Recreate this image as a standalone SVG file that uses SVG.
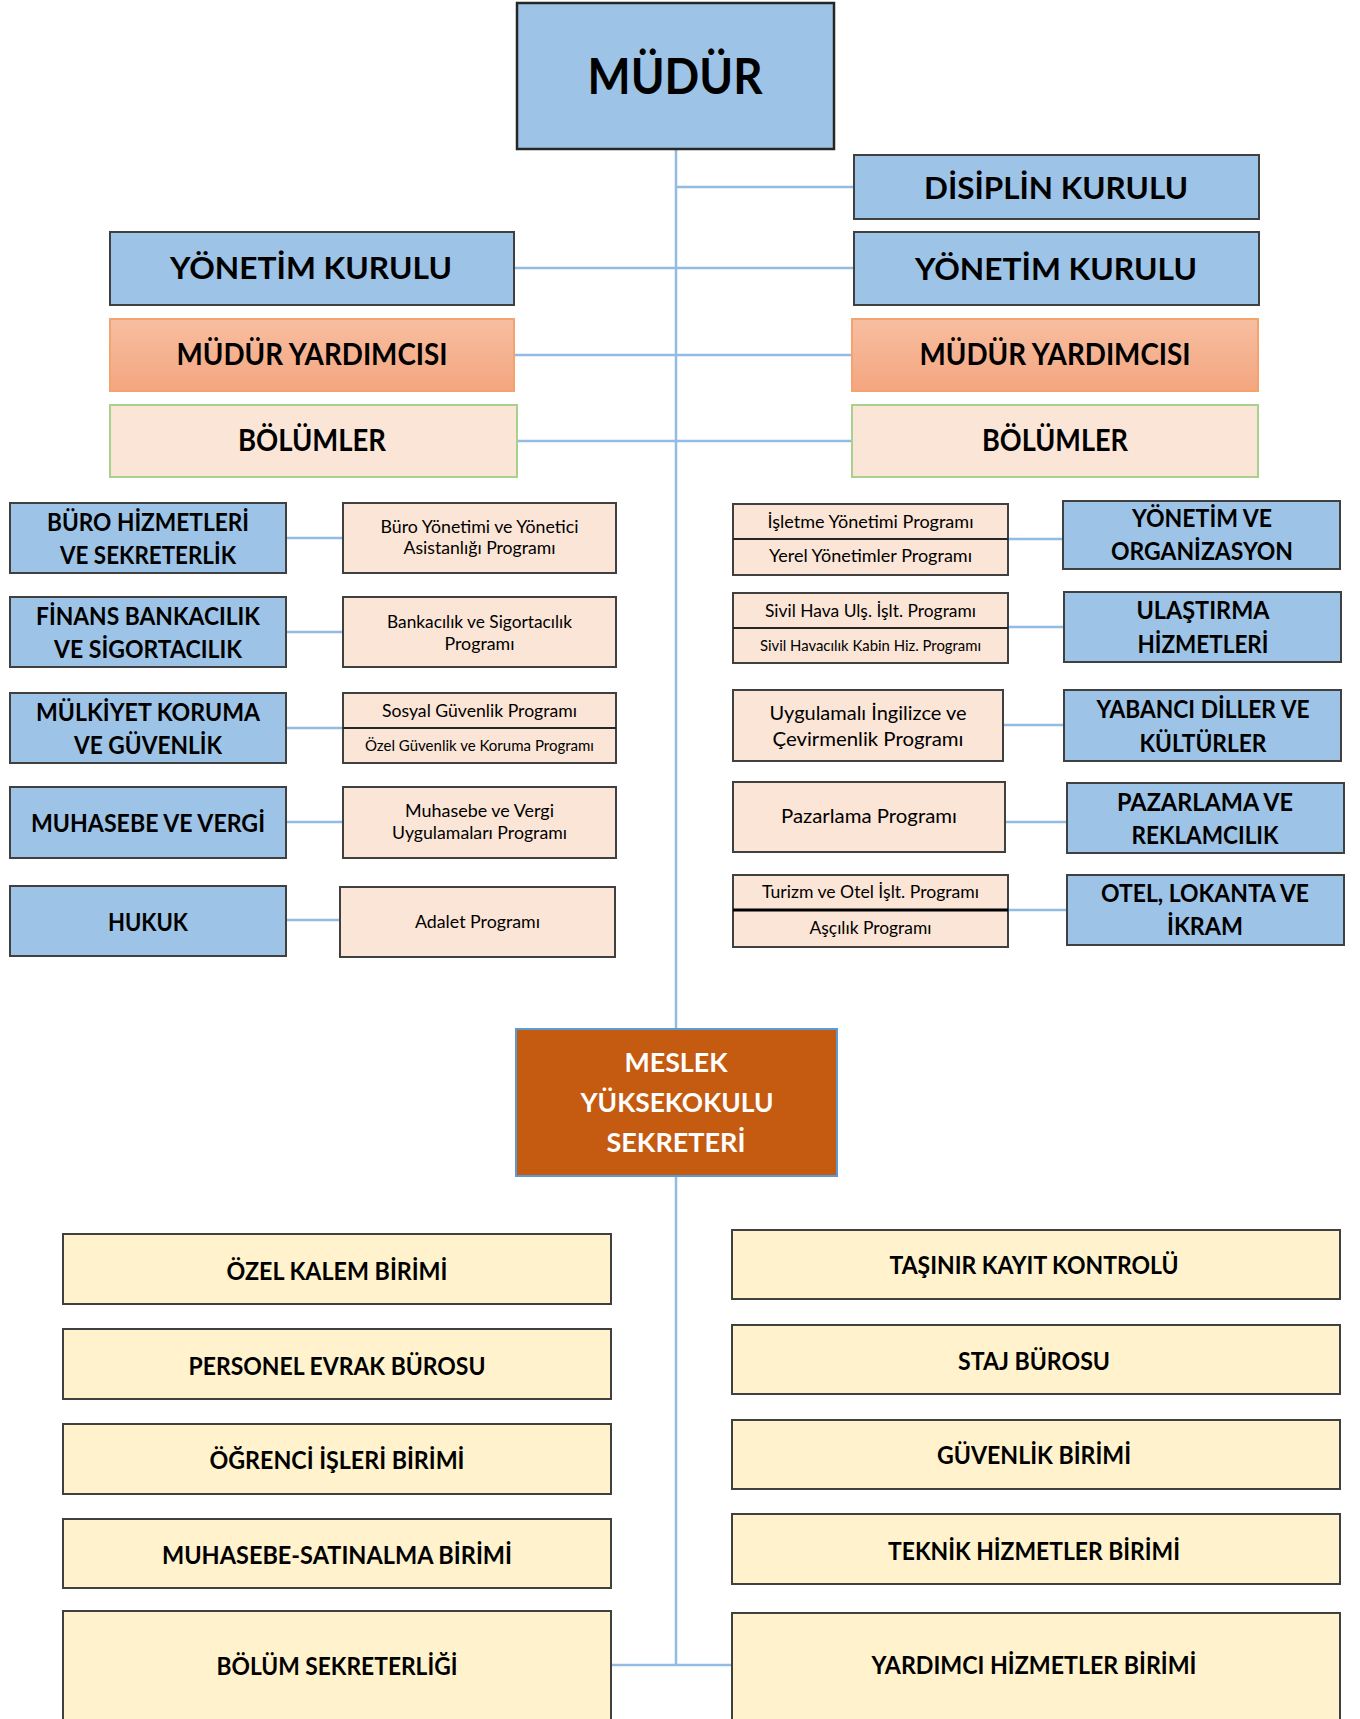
<svg xmlns="http://www.w3.org/2000/svg" width="1360" height="1719" viewBox="0 0 1360 1719">
<defs>
<linearGradient id="orangeGrad" x1="0" y1="0" x2="0" y2="1">
<stop offset="0" stop-color="#F7BEA1"/>
<stop offset="1" stop-color="#F4A67F"/>
</linearGradient>
</defs>
<style>
text{font-family:Lato,"Liberation Sans",Arial,sans-serif;fill:#000;text-anchor:middle}
.b{font-weight:700}
.r{font-weight:400}
.blue{fill:#9DC3E6;stroke:#404040;stroke-width:2}
.orange{fill:url(#orangeGrad);stroke:#F4A26F;stroke-width:2}
.bol{fill:#FBE5D6;stroke:#A9D18E;stroke-width:2}
.prog{fill:#FBE5D6;stroke:#404040;stroke-width:2}
.unit{fill:#FFF2CC;stroke:#404040;stroke-width:2}
.split{stroke:#262626;stroke-width:2}
.conn{stroke:#93BCE5;stroke-width:2.5;fill:none}
.t30{font-size:30px}
.t24{font-size:24px}
.w{fill:#fff}
</style>
<rect width="1360" height="1719" fill="#fff"/>

<g id="connectors">
<line class="conn" x1="676" y1="149" x2="676" y2="1029"/>
<line class="conn" x1="676" y1="1176" x2="676" y2="1665"/>
<line class="conn" x1="676" y1="187" x2="854" y2="187"/>
<line class="conn" x1="514" y1="268" x2="854" y2="268"/>
<line class="conn" x1="514" y1="355" x2="852" y2="355"/>
<line class="conn" x1="517" y1="441" x2="852" y2="441"/>
<line class="conn" x1="286" y1="538" x2="343" y2="538"/>
<line class="conn" x1="286" y1="632" x2="343" y2="632"/>
<line class="conn" x1="286" y1="728" x2="343" y2="728"/>
<line class="conn" x1="286" y1="822" x2="343" y2="822"/>
<line class="conn" x1="286" y1="920" x2="340" y2="920"/>
<line class="conn" x1="1008" y1="539" x2="1063" y2="539"/>
<line class="conn" x1="1008" y1="627" x2="1064" y2="627"/>
<line class="conn" x1="1003" y1="725" x2="1064" y2="725"/>
<line class="conn" x1="1005" y1="822" x2="1067" y2="822"/>
<line class="conn" x1="1008" y1="910" x2="1067" y2="910"/>
<line class="conn" x1="611" y1="1665" x2="732" y2="1665"/>
</g>

<g id="mudur">
<rect x="517" y="3" width="317" height="146" fill="#9DC3E6" stroke="#262626" stroke-width="2.5"/>
<text class="b" x="675" y="94" font-size="50" textLength="175" lengthAdjust="spacingAndGlyphs">MÜDÜR</text>
</g>

<g id="disiplin-kurulu">
<rect class="blue" x="854" y="155" width="405" height="64"/>
<text class="b t30" x="1056" y="199" textLength="264" lengthAdjust="spacingAndGlyphs">DİSİPLİN KURULU</text>
</g>
<g id="yonetim-kurulu-sol">
<rect class="blue" x="110" y="232" width="404" height="73"/>
<text class="b t30" x="311" y="279" textLength="282" lengthAdjust="spacingAndGlyphs">YÖNETİM KURULU</text>
</g>
<g id="yonetim-kurulu-sag">
<rect class="blue" x="854" y="232" width="405" height="73"/>
<text class="b t30" x="1056" y="280" textLength="282" lengthAdjust="spacingAndGlyphs">YÖNETİM KURULU</text>
</g>
<g id="mudur-yardimcisi-sol">
<rect class="orange" x="110" y="319" width="404" height="72"/>
<text class="b t30" x="312" y="365" textLength="271" lengthAdjust="spacingAndGlyphs">MÜDÜR YARDIMCISI</text>
</g>
<g id="mudur-yardimcisi-sag">
<rect class="orange" x="852" y="319" width="406" height="72"/>
<text class="b t30" x="1055" y="365" textLength="271" lengthAdjust="spacingAndGlyphs">MÜDÜR YARDIMCISI</text>
</g>
<g id="bolumler-sol">
<rect class="bol" x="110" y="405" width="407" height="72"/>
<text class="b t30" x="312" y="451" textLength="148" lengthAdjust="spacingAndGlyphs">BÖLÜMLER</text>
</g>
<g id="bolumler-sag">
<rect class="bol" x="852" y="405" width="406" height="72"/>
<text class="b t30" x="1055" y="451" textLength="146" lengthAdjust="spacingAndGlyphs">BÖLÜMLER</text>
</g>

<!-- left departments -->
<g id="buro-hizmetleri">
<rect class="blue" x="10" y="503" width="276" height="70"/>
<text class="b t24" x="148" y="531" textLength="202" lengthAdjust="spacingAndGlyphs">BÜRO HİZMETLERİ</text>
<text class="b t24" x="148" y="564" textLength="176" lengthAdjust="spacingAndGlyphs">VE SEKRETERLİK</text>
</g>
<g id="finans">
<rect class="blue" x="10" y="597" width="276" height="70"/>
<text class="b t24" x="148" y="625" textLength="224" lengthAdjust="spacingAndGlyphs">FİNANS BANKACILIK</text>
<text class="b t24" x="148" y="658" textLength="188" lengthAdjust="spacingAndGlyphs">VE SİGORTACILIK</text>
</g>
<g id="mulkiyet">
<rect class="blue" x="10" y="693" width="276" height="70"/>
<text class="b t24" x="148" y="721" textLength="224" lengthAdjust="spacingAndGlyphs">MÜLKİYET KORUMA</text>
<text class="b t24" x="148" y="754" textLength="148" lengthAdjust="spacingAndGlyphs">VE GÜVENLİK</text>
</g>
<g id="muhasebe-vergi">
<rect class="blue" x="10" y="787" width="276" height="71"/>
<text class="b t24" x="148" y="832" textLength="234" lengthAdjust="spacingAndGlyphs">MUHASEBE VE VERGİ</text>
</g>
<g id="hukuk">
<rect class="blue" x="10" y="886" width="276" height="70"/>
<text class="b t24" x="148" y="931" textLength="80" lengthAdjust="spacingAndGlyphs">HUKUK</text>
</g>

<!-- left programs -->
<g id="prog-buro">
<rect class="prog" x="343" y="503" width="273" height="70"/>
<text class="r" font-size="18" x="479.5" y="533" textLength="198" lengthAdjust="spacingAndGlyphs">Büro Yönetimi ve Yönetici</text>
<text class="r" font-size="18" x="479.5" y="554" textLength="152" lengthAdjust="spacingAndGlyphs">Asistanlığı Programı</text>
</g>
<g id="prog-bankacilik">
<rect class="prog" x="343" y="597" width="273" height="70"/>
<text class="r" font-size="18" x="479.5" y="628" textLength="185" lengthAdjust="spacingAndGlyphs">Bankacılık ve Sigortacılık</text>
<text class="r" font-size="18" x="479.5" y="650" textLength="70" lengthAdjust="spacingAndGlyphs">Programı</text>
</g>
<g id="prog-guvenlik">
<rect class="prog" x="343" y="693" width="273" height="70"/>
<line class="split" x1="343" y1="728" x2="616" y2="728"/>
<text class="r" font-size="17" x="479.5" y="717" textLength="195" lengthAdjust="spacingAndGlyphs">Sosyal Güvenlik Programı</text>
<text class="r" font-size="15" x="479.5" y="751" textLength="229" lengthAdjust="spacingAndGlyphs">Özel Güvenlik ve Koruma Programı</text>
</g>
<g id="prog-muhasebe">
<rect class="prog" x="343" y="787" width="273" height="71"/>
<text class="r" font-size="18" x="479.5" y="817" textLength="149" lengthAdjust="spacingAndGlyphs">Muhasebe ve Vergi</text>
<text class="r" font-size="18" x="479.5" y="839" textLength="175" lengthAdjust="spacingAndGlyphs">Uygulamaları Programı</text>
</g>
<g id="prog-adalet">
<rect class="prog" x="340" y="887" width="275" height="70"/>
<text class="r" font-size="17" x="477.5" y="928" textLength="125" lengthAdjust="spacingAndGlyphs">Adalet Programı</text>
</g>

<!-- right programs -->
<g id="prog-isletme">
<rect class="prog" x="733" y="504" width="275" height="71"/>
<line class="split" x1="733" y1="539" x2="1008" y2="539"/>
<text class="r" font-size="17" x="870.5" y="528" textLength="206" lengthAdjust="spacingAndGlyphs">İşletme Yönetimi Programı</text>
<text class="r" font-size="17" x="870.5" y="562" textLength="203" lengthAdjust="spacingAndGlyphs">Yerel Yönetimler Programı</text>
</g>
<g id="prog-sivil">
<rect class="prog" x="733" y="593" width="275" height="70"/>
<line class="split" x1="733" y1="628" x2="1008" y2="628"/>
<text class="r" font-size="17" x="870.5" y="617" textLength="211" lengthAdjust="spacingAndGlyphs">Sivil Hava Ulş. İşlt. Programı</text>
<text class="r" font-size="15" x="870.5" y="651" textLength="221" lengthAdjust="spacingAndGlyphs">Sivil Havacılık Kabin Hiz. Programı</text>
</g>
<g id="prog-ingilizce">
<rect class="prog" x="733" y="690" width="270" height="71"/>
<text class="r" font-size="20" x="868" y="720" textLength="197" lengthAdjust="spacingAndGlyphs">Uygulamalı İngilizce ve</text>
<text class="r" font-size="20" x="868" y="746" textLength="191" lengthAdjust="spacingAndGlyphs">Çevirmenlik Programı</text>
</g>
<g id="prog-pazarlama">
<rect class="prog" x="733" y="782" width="272" height="70"/>
<text class="r" font-size="20" x="869" y="823" textLength="176" lengthAdjust="spacingAndGlyphs">Pazarlama Programı</text>
</g>
<g id="prog-turizm">
<rect class="prog" x="733" y="875" width="275" height="72"/>
<line x1="733" y1="910" x2="1008" y2="910" stroke="#000" stroke-width="3"/>
<text class="r" font-size="17" x="870.5" y="898" textLength="217" lengthAdjust="spacingAndGlyphs">Turizm ve Otel İşlt. Programı</text>
<text class="r" font-size="17" x="870.5" y="934" textLength="122" lengthAdjust="spacingAndGlyphs">Aşçılık Programı</text>
</g>

<!-- right departments -->
<g id="yonetim-organizasyon">
<rect class="blue" x="1063" y="501" width="277" height="68"/>
<text class="b t24" x="1202" y="527" textLength="140" lengthAdjust="spacingAndGlyphs">YÖNETİM VE</text>
<text class="b t24" x="1202" y="560" textLength="182" lengthAdjust="spacingAndGlyphs">ORGANİZASYON</text>
</g>
<g id="ulastirma">
<rect class="blue" x="1064" y="592" width="277" height="70"/>
<text class="b t24" x="1203" y="619" textLength="133" lengthAdjust="spacingAndGlyphs">ULAŞTIRMA</text>
<text class="b t24" x="1203" y="653" textLength="131" lengthAdjust="spacingAndGlyphs">HİZMETLERİ</text>
</g>
<g id="yabanci-diller">
<rect class="blue" x="1064" y="690" width="277" height="71"/>
<text class="b t24" x="1203" y="718" textLength="213" lengthAdjust="spacingAndGlyphs">YABANCI DİLLER VE</text>
<text class="b t24" x="1203" y="752" textLength="127" lengthAdjust="spacingAndGlyphs">KÜLTÜRLER</text>
</g>
<g id="pazarlama-reklamcilik">
<rect class="blue" x="1067" y="783" width="277" height="70"/>
<text class="b t24" x="1205" y="811" textLength="176" lengthAdjust="spacingAndGlyphs">PAZARLAMA VE</text>
<text class="b t24" x="1205" y="844" textLength="147" lengthAdjust="spacingAndGlyphs">REKLAMCILIK</text>
</g>
<g id="otel-lokanta">
<rect class="blue" x="1067" y="875" width="277" height="70"/>
<text class="b t24" x="1205" y="902" textLength="208" lengthAdjust="spacingAndGlyphs">OTEL, LOKANTA VE</text>
<text class="b t24" x="1205" y="935" textLength="76" lengthAdjust="spacingAndGlyphs">İKRAM</text>
</g>

<g id="meslek-yuksekokulu-sekreteri">
<rect x="516" y="1029" width="321" height="147" fill="#C55A11" stroke="#5B9BD5" stroke-width="2"/>
<text class="b w" font-size="27" x="676" y="1072" textLength="103" lengthAdjust="spacingAndGlyphs">MESLEK</text>
<text class="b w" font-size="27" x="677" y="1112" textLength="193" lengthAdjust="spacingAndGlyphs">YÜKSEKOKULU</text>
<text class="b w" font-size="27" x="676" y="1152" textLength="139" lengthAdjust="spacingAndGlyphs">SEKRETERİ</text>
</g>

<!-- bottom left units -->
<g id="ozel-kalem">
<rect class="unit" x="63" y="1234" width="548" height="70"/>
<text class="b t24" x="337" y="1280" textLength="221" lengthAdjust="spacingAndGlyphs">ÖZEL KALEM BİRİMİ</text>
</g>
<g id="personel-evrak">
<rect class="unit" x="63" y="1329" width="548" height="70"/>
<text class="b t24" x="337" y="1375" textLength="297" lengthAdjust="spacingAndGlyphs">PERSONEL EVRAK BÜROSU</text>
</g>
<g id="ogrenci-isleri">
<rect class="unit" x="63" y="1424" width="548" height="70"/>
<text class="b t24" x="337" y="1469" textLength="255" lengthAdjust="spacingAndGlyphs">ÖĞRENCİ İŞLERİ BİRİMİ</text>
</g>
<g id="muhasebe-satinalma">
<rect class="unit" x="63" y="1519" width="548" height="69"/>
<text class="b t24" x="337" y="1564" textLength="350" lengthAdjust="spacingAndGlyphs">MUHASEBE-SATINALMA BİRİMİ</text>
</g>
<g id="bolum-sekreterligi">
<rect class="unit" x="63" y="1611" width="548" height="120"/>
<text class="b t24" x="337" y="1675" textLength="241" lengthAdjust="spacingAndGlyphs">BÖLÜM SEKRETERLİĞİ</text>
</g>

<!-- bottom right units -->
<g id="tasinir-kayit">
<rect class="unit" x="732" y="1230" width="608" height="69"/>
<text class="b t24" x="1034" y="1274" textLength="289" lengthAdjust="spacingAndGlyphs">TAŞINIR KAYIT KONTROLÜ</text>
</g>
<g id="staj-burosu">
<rect class="unit" x="732" y="1325" width="608" height="69"/>
<text class="b t24" x="1034" y="1370" textLength="152" lengthAdjust="spacingAndGlyphs">STAJ BÜROSU</text>
</g>
<g id="guvenlik-birimi">
<rect class="unit" x="732" y="1420" width="608" height="69"/>
<text class="b t24" x="1034" y="1464" textLength="194" lengthAdjust="spacingAndGlyphs">GÜVENLİK BİRİMİ</text>
</g>
<g id="teknik-hizmetler">
<rect class="unit" x="732" y="1514" width="608" height="70"/>
<text class="b t24" x="1034" y="1560" textLength="292" lengthAdjust="spacingAndGlyphs">TEKNİK HİZMETLER BİRİMİ</text>
</g>
<g id="yardimci-hizmetler">
<rect class="unit" x="732" y="1613" width="608" height="120"/>
<text class="b t24" x="1034" y="1674" textLength="325" lengthAdjust="spacingAndGlyphs">YARDIMCI HİZMETLER BİRİMİ</text>
</g>
</svg>
